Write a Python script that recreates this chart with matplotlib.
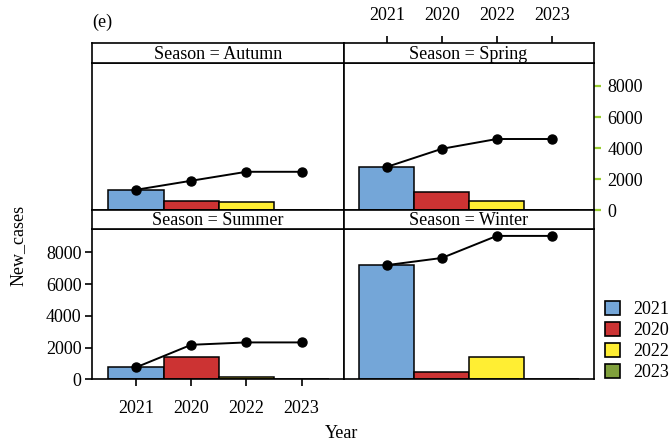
import numpy as np
import matplotlib
matplotlib.use("Agg")
import matplotlib.pyplot as plt
from matplotlib.patches import Patch

plt.rcParams["font.family"] = ["Liberation Serif", "DejaVu Serif"]

# --- данные: новые случаи по годам внутри каждого сезона ---
YEARS = ["2021", "2020", "2022", "2023"]
COLORS = ["#74A6D8", "#CC3333", "#FFEE33", "#80A03C"]
AUTUMN = [1330, 580, 575, 0]
SPRING = [2800, 1160, 630, 0]
SUMMER = [760, 1420, 150, 0]
WINTER = [7200, 450, 1390, 0]

W, H = 671, 444
YMAX = 9450
XLIM = (0.21, 4.76)
FS = 13


def px_box(x0, y0, x1, y1):
    """прямоугольник в пикселях (от верхнего левого угла) -> доли фигуры"""
    return [x0 / W, 1 - y1 / H, (x1 - x0) / W, (y1 - y0) / H]


fig = plt.figure(figsize=(W / 100, H / 100), dpi=100)

# колонки и строки панелей (пиксели)
cols = [(92.5, 343.5), (343.5, 593.5)]
rows = [(42.7, 63.3, 210.5), (210.5, 229.4, 379.4)]  # верх полосы, верх панели, низ панели
panels = [("Autumn", AUTUMN, 0, 0), ("Spring", SPRING, 0, 1),
          ("Summer", SUMMER, 1, 0), ("Winter", WINTER, 1, 1)]

pos = np.arange(1, len(YEARS) + 1)
for name, vals, r, c in panels:
    x0, x1 = cols[c]
    s_top, p_top, p_bot = rows[r]
    ax = fig.add_axes(px_box(x0, p_top, x1, p_bot))
    ax.bar(pos, vals, width=1.0, color=COLORS, edgecolor="black", linewidth=1.1, zorder=2)
    ax.plot(pos, np.cumsum(vals), color="black", lw=1.4, marker="o", ms=6.5, zorder=3)
    ax.set_xlim(*XLIM)
    ax.set_ylim(0, YMAX)
    for sp in ax.spines.values():
        sp.set_linewidth(1.2)
    ax.tick_params(left=False, bottom=False, labelbottom=False, labelleft=False)
    ax.set_xticks(pos)
    ax.set_yticks([0, 2000, 4000, 6000, 8000])

    if (r, c) == (1, 0):
        ax.tick_params(axis="y", left=True, labelleft=True, length=5, width=1.2,
                       labelsize=FS, pad=3)
        ax.tick_params(axis="x", bottom=True, labelbottom=True, length=5, width=1.2,
                       labelsize=FS, pad=10)
        ax.set_xticklabels(YEARS)
    if (r, c) == (0, 1):
        ax.tick_params(axis="y", left=False, right=True, labelright=True, length=5, width=1.6,
                       color="#9ACD32", labelsize=FS, pad=5)

    # полоса с названием сезона
    st = fig.add_axes(px_box(x0, s_top, x1, p_top))
    st.set_xlim(*XLIM)
    st.set_yticks([])
    st.set_xticks([])
    for sp in st.spines.values():
        sp.set_linewidth(1.2)
    st.text(0.5, 0.45, f"Season = {name}", transform=st.transAxes,
            ha="center", va="center", fontsize=FS)
    if (r, c) == (0, 1):
        st.set_xticks(pos)
        st.set_xticklabels(YEARS)
        st.tick_params(axis="x", bottom=False, top=True, labeltop=True, labelbottom=False,
                       length=5, width=1.2, labelsize=FS, pad=8.5)

fig.text(92.5 / W, 1 - 22 / H, "(e)", ha="left", va="center", fontsize=FS)
fig.text(18 / W, 1 - 245 / H, "New_cases", rotation=90, ha="center", va="center", fontsize=FS)
fig.text(342 / W, 1 - 433 / H, "Year", ha="center", va="center", fontsize=FS)

handles = [Patch(facecolor=col, edgecolor="black", linewidth=1.2) for col in COLORS]
fig.legend(handles, YEARS, loc="center left", bbox_to_anchor=(605 / W, 1 - 341 / H),
           frameon=False, fontsize=FS, handlelength=0.85, handleheight=0.85,
           handletextpad=0.7, labelspacing=0.2, borderpad=0.0, borderaxespad=0.0)

fig.savefig("out.png", dpi=100)
